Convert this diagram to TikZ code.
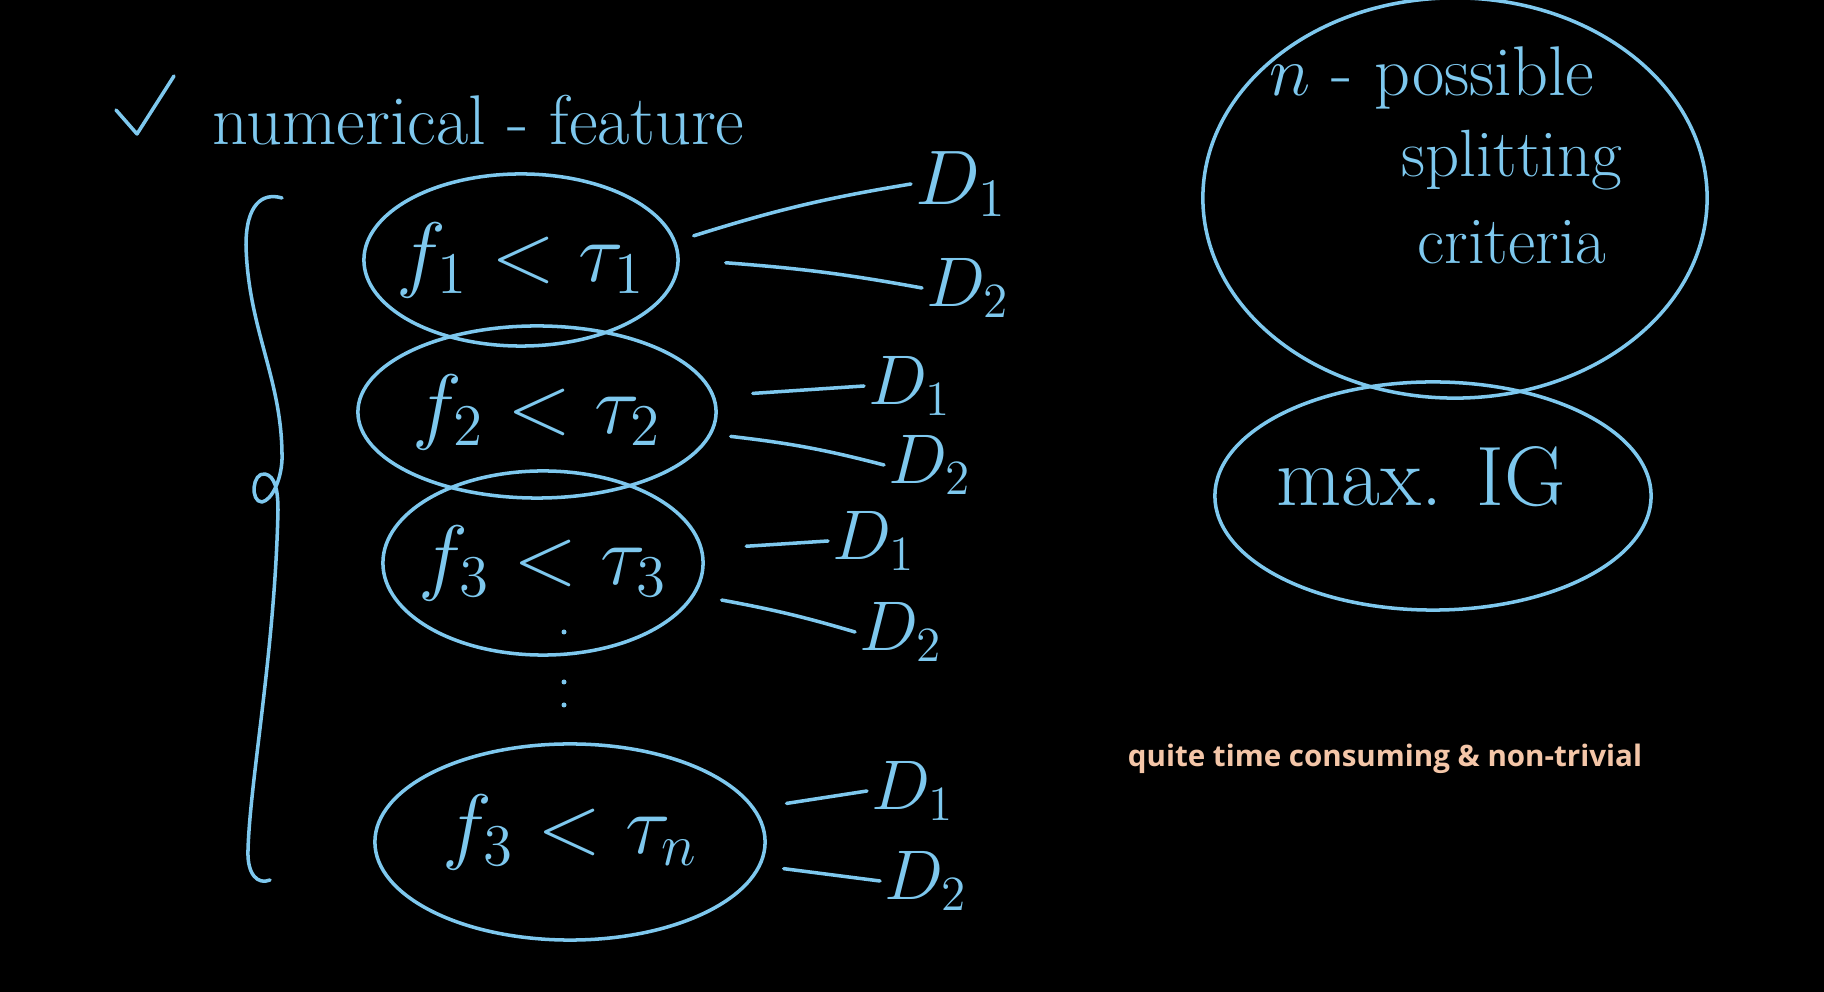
\RequirePackage{fix-cm}
\documentclass[tikz,border=0pt]{standalone}
\usepackage{fontspec}
\newfontfamily\notefont{Open Sans}
\usetikzlibrary{shapes.geometric}
\definecolor{chalk}{RGB}{126,200,238}
\definecolor{peach}{RGB}{244,198,168}
\begin{document}
\begin{tikzpicture}[x=0.01cm, y=-0.01cm,
  stroke/.style={draw=chalk, line width=1pt, line cap=round, line join=round},
  oval/.style={ellipse, stroke, inner sep=0pt},
  hand/.style={text=chalk, font=\fontsize{24}{28}\selectfont},
  dset/.style={text=chalk, font=\fontsize{20}{24}\selectfont, anchor=west, inner sep=1pt}]
\fill[black] (0,0) rectangle (1824,992);
\useasboundingbox (0,0) rectangle (1824,992);
% heading
\draw[stroke] (116,110) -- (137,134) -- (174,76);
\node[hand, font=\fontsize{20}{24}\selectfont, anchor=base west] (title) at (200,145) {numerical - feature};
% brace
\draw[stroke] (282,198) .. controls (262,192) and (246,205) .. (246,245)
  .. controls (248,330) and (283,380) .. (282,460)
  .. controls (281,480) and (272,500) .. (262,502)
  .. controls (250,502) and (252,472) .. (265,474)
  .. controls (275,476) and (278,490) .. (278,510)
  .. controls (275,650) and (250,780) .. (248,850)
  .. controls (247,875) and (258,885) .. (270,880);
% split candidates
\node[oval, minimum width=3.14cm, minimum height=1.72cm] (e1) at (521,260) {};
\node[oval, minimum width=3.58cm, minimum height=1.72cm] (e2) at (537,412) {};
\node[oval, minimum width=3.20cm, minimum height=1.84cm] (e3) at (543,563) {};
\node[oval, minimum width=3.90cm, minimum height=1.96cm] (e4) at (570,842) {};
\node[hand] (t1) at (e1) {$f_1 < \tau_1$};
\node[hand] (t2) at (e2) {$f_2 < \tau_2$};
\node[hand] (t3) at (e3) {$f_3 < \tau_3$};
\node[hand] (t4) at ([yshift=1mm]e4) {$f_3 < \tau_n$};
\foreach \y [count=\i] in {632,682,705}
  \fill[chalk] (564,\y) circle (2.5) coordinate (dot\i);
% child sets
\node[dset, font=\fontsize{22}{26}\selectfont] (d11) at (911,184) {$D_1$};
\node[dset] (d12) at (922,288) {$D_2$};
\node[dset] (d21) at (864,386) {$D_1$};
\node[dset] (d22) at (884,465) {$D_2$};
\node[dset] (d31) at (828,541) {$D_1$};
\node[dset] (d32) at (855,632) {$D_2$};
\node[dset] (dn1) at (867,791) {$D_1$};
\node[dset] (dn2) at (880,881) {$D_2$};
\draw[stroke] ([xshift=2mm]e1.9) to[bend left=4] (d11.west);
\draw[stroke] ([xshift=4.6mm]e1.-1) to[bend left=3] (d12.west);
\draw[stroke] ([xshift=3.9mm]e2.6) -- (d21.west);
\draw[stroke] ([xshift=2mm]e2.-8) to[bend left=4] (d22.west);
\draw[stroke] ([xshift=4.4mm]e3.6) -- (d31.west);
\draw[stroke] ([xshift=3mm]e3.-14) to[bend left=3] (d32.west);
\draw[stroke] ([xshift=3.5mm]e4.12) -- (dn1.west);
\draw[stroke] ([xshift=2.4mm]e4.-8) -- (dn2.west);
% right side
\node[oval, minimum width=5.04cm, minimum height=4.00cm] (crit) at (1455,198) {};
\node[oval, minimum width=4.36cm, minimum height=2.28cm] (gain) at (1433,496) {};
\node[hand, font=\fontsize{20}{24}\selectfont] (c1) at (1432,78) {$n$ - possible};
\node[hand, font=\fontsize{19}{23}\selectfont] (c2) at (1512,160) {splitting};
\node[hand, font=\fontsize{19}{23}\selectfont] (c3) at (1512,242) {criteria};
\node[hand] (ig) at (1421,477) {max. IG};
\node[text=peach, font=\notefont\bfseries\fontsize{8.4}{10}\selectfont] (note) at (1385,759) {quite time consuming \& non-trivial};
\end{tikzpicture}
\end{document}
